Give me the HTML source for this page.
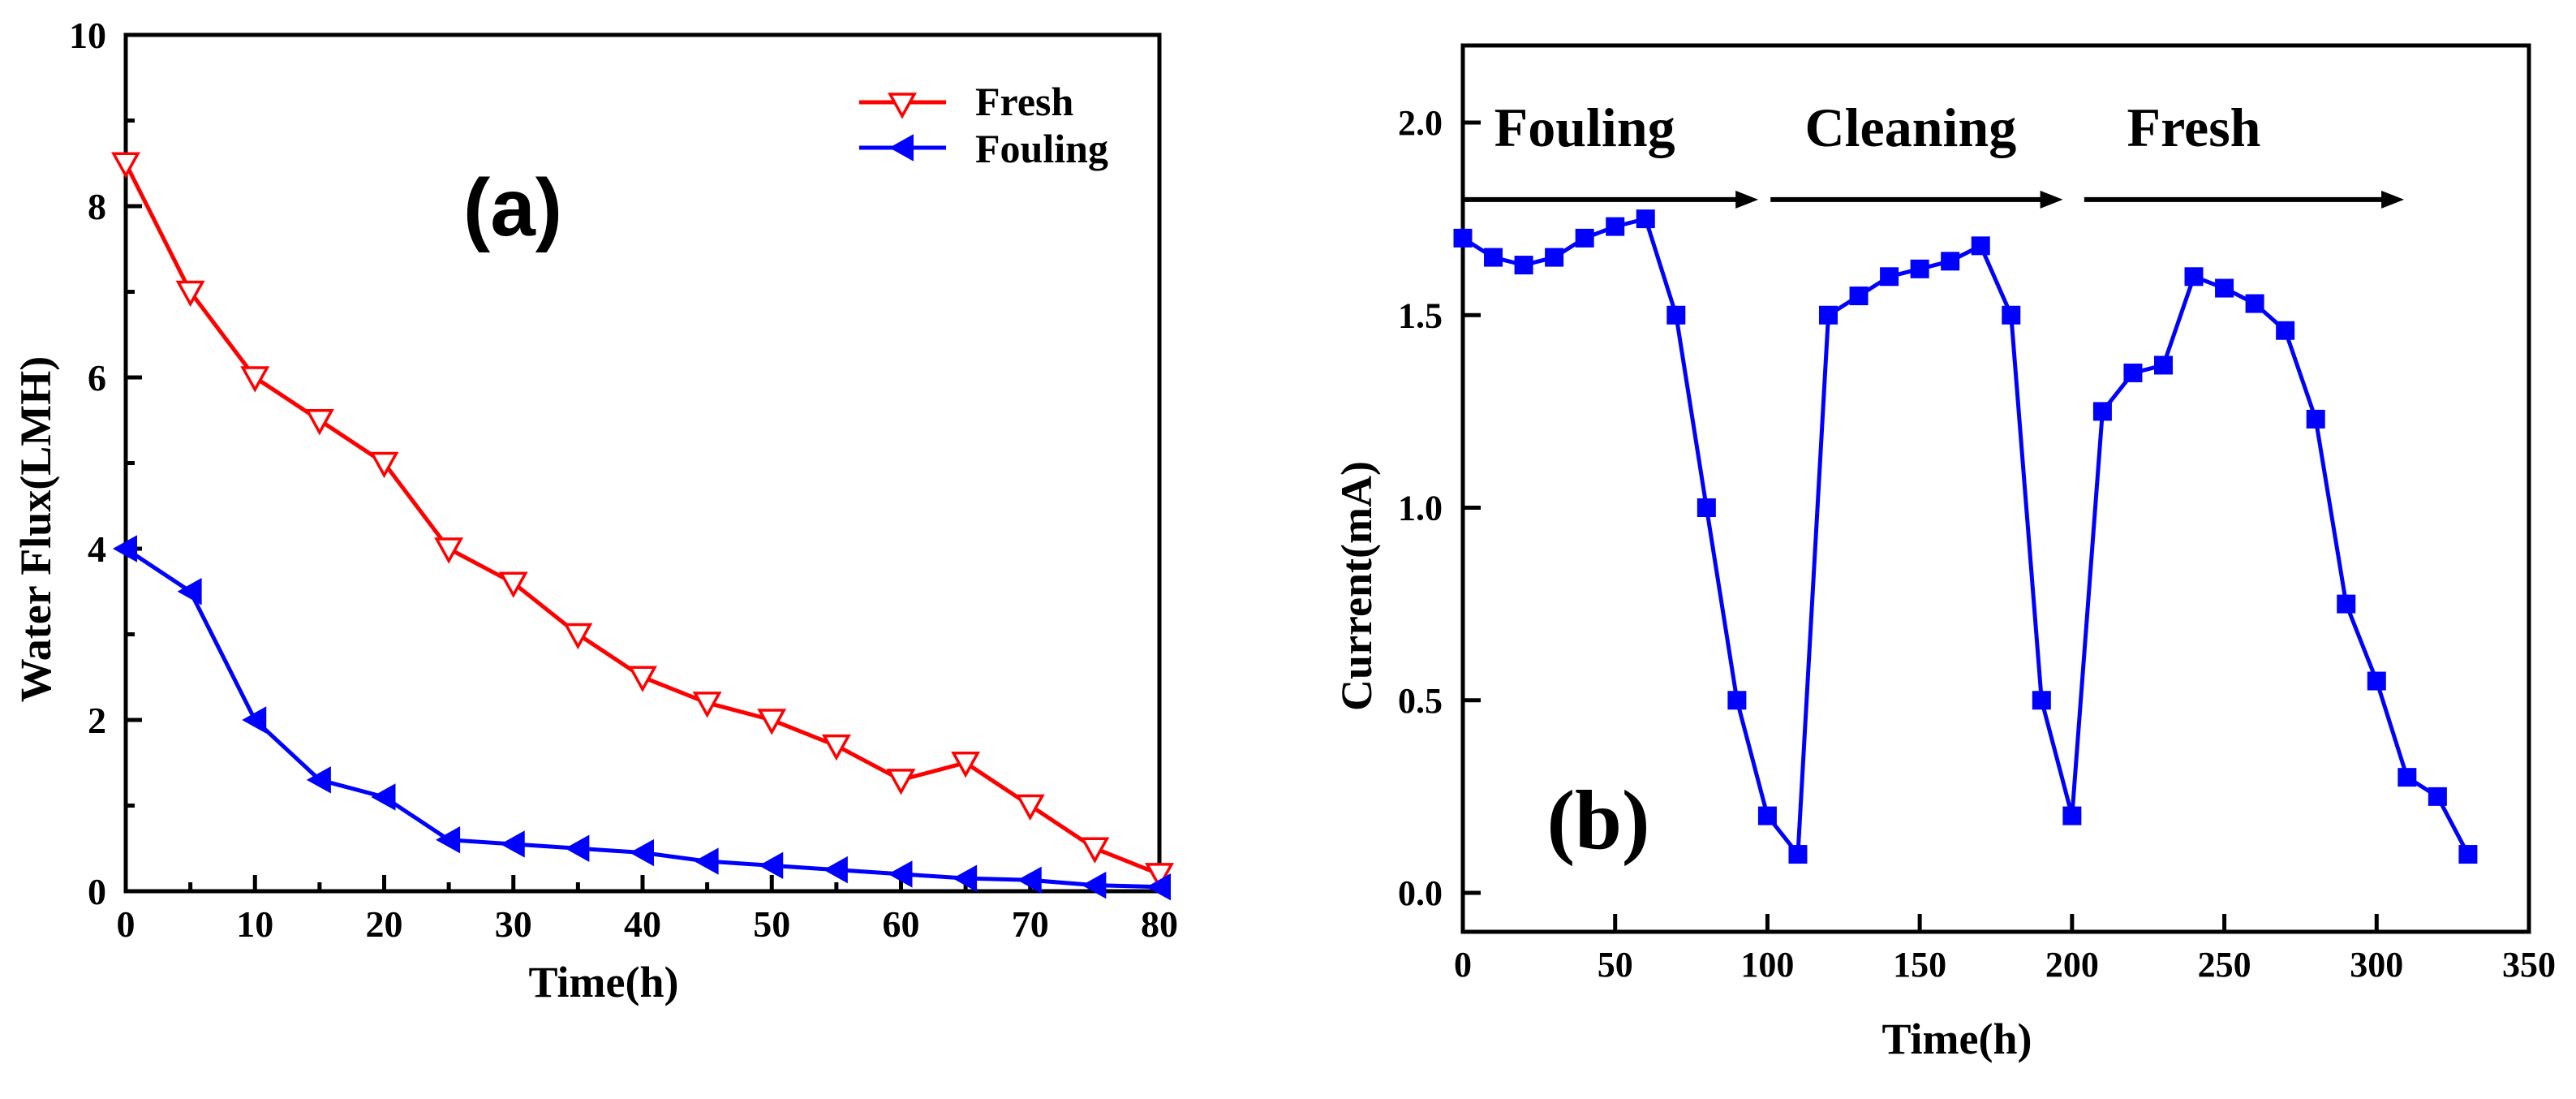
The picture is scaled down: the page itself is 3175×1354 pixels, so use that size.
<!DOCTYPE html>
<html><head><meta charset="utf-8">
<style>
html,body{margin:0;padding:0;background:#fff;}
svg{display:block;}
text{font-family:"Liberation Serif",serif;font-weight:bold;fill:#000;}
</style></head>
<body>
<svg id="fig" width="3175" height="1354" viewBox="0 0 3175 1354" xmlns="http://www.w3.org/2000/svg">
<g id="chartA"></g>
<g id="chartB"></g>
</svg>
<script>
// ---------- Chart (a) data ----------
const timeA = [0,5,10,15,20,25,30,35,40,45,50,55,60,65,70,75,80];
const freshFlux = [8.5,7.0,6.0,5.5,5.0,4.0,3.6,3.0,2.5,2.2,2.0,1.7,1.3,1.5,1.0,0.5,0.2];
const foulingFlux = [4.0,3.5,2.0,1.3,1.1,0.6,0.55,0.5,0.45,0.35,0.3,0.25,0.2,0.15,0.13,0.07,0.05];
const xTicksA = [0,10,20,30,40,50,60,70,80];
const yTicksA = [0,2,4,6,8,10];
// ---------- Chart (b) data ----------
const timeB = [0,10,20,30,40,50,60,70,80,90,100,110,120,130,140,150,160,170,180,190,200,210,220,230,240,250,260,270,280,290,300,310,320,330];
const currentB = [1.70,1.65,1.63,1.65,1.70,1.73,1.75,1.50,1.00,0.50,0.20,0.10,1.50,1.55,1.60,1.62,1.64,1.68,1.50,0.50,0.20,1.25,1.35,1.37,1.60,1.57,1.53,1.46,1.23,0.75,0.55,0.30,0.25,0.10];
const xTicksB = [0,50,100,150,200,250,300,350];
const yTicksB = [0.0,0.5,1.0,1.5,2.0];
const phaseLabels = ["Fouling","Cleaning","Fresh"];
const phaseStart = [0,101,204];
const phaseEnd = [97,197,309];
const phaseLabelX = [40,147,240];
const phaseLevel = 1.80;

const NS = "http://www.w3.org/2000/svg";
function mk(parent, tag, attrs, txt){
  const e = document.createElementNS(NS, tag);
  for (const k in attrs) e.setAttribute(k, attrs[k]);
  if (txt !== undefined) e.textContent = txt;
  parent.appendChild(e);
  return e;
}

// ===== Chart A =====
(function(){
  const g = document.getElementById('chartA');
  const L=155, R=1429, T=43, B=1098;
  const xA = v => L + (v-0)/(80-0)*(R-L);
  const yA = v => B - (v-0)/(10-0)*(B-T);
  const frame = mk(g,'rect',{x:L,y:T,width:R-L,height:B-T,fill:'none',stroke:'#000','stroke-width':5});
  
  
  for (let v=0; v<=10; v++){
    const major = v%2===0;
    const t = mk(g,'line',{x1:L,x2:L+(major?20:11),y1:yA(v),y2:yA(v),stroke:'#000','stroke-width':5});
    
    
  }
  yTicksA.forEach(v=>{
    const t = mk(g,'text',{x:L-24,y:yA(v)+16,'font-size':46,'text-anchor':'end'},String(v));
    
    
  });
  for (let v=5; v<80; v+=5){
    const major = v%10===0;
    const t = mk(g,'line',{x1:xA(v),x2:xA(v),y1:B,y2:B-(major?20:11),stroke:'#000','stroke-width':5});
    
    
  }
  xTicksA.forEach(v=>{
    const t = mk(g,'text',{x:xA(v),y:1154,'font-size':46,'text-anchor':'middle'},String(v));
    
    
  });
  const xt = mk(g,'text',{x:744,y:1228,'font-size':54,'text-anchor':'middle'},'Time(h)');
  
  
  const yt = mk(g,'text',{x:0,y:0,'font-size':54,'text-anchor':'middle',transform:'translate(62,652) rotate(-90)'},'Water Flux(LMH)');
  
  
  const redPts = timeA.map((t,i)=>xA(t)+','+yA(freshFlux[i])).join(' ');
  const rl = mk(g,'polyline',{points:redPts,fill:'none',stroke:'#ff0000','stroke-width':5});
  
  
  const bluePts = timeA.map((t,i)=>xA(t)+','+yA(foulingFlux[i])).join(' ');
  const bl = mk(g,'polyline',{points:bluePts,fill:'none',stroke:'#0000ff','stroke-width':5});
  
  
  function downTri(cx,cy){ return `${cx-15},${cy-12} ${cx+15},${cy-12} ${cx},${cy+15}`; }
  function leftTri(cx,cy){ return `${cx+13},${cy-15} ${cx+13},${cy+15} ${cx-14},${cy}`; }
  timeA.forEach((t,i)=>{
    const m = mk(g,'polygon',{points:downTri(xA(t),yA(freshFlux[i])),fill:'#fff',stroke:'#ff0000','stroke-width':3.5});
    
    
  });
  timeA.forEach((t,i)=>{
    const m = mk(g,'polygon',{points:leftTri(xA(t),yA(foulingFlux[i])),fill:'#0000ff',stroke:'#0000ff','stroke-width':2});
    
    
  });
  const lg = mk(g,'g',{});
  
  
  const l1 = mk(lg,'line',{x1:1059,x2:1166,y1:126,y2:126,stroke:'#ff0000','stroke-width':5});
  
  
  const m1 = mk(lg,'polygon',{points:downTri(1112,128),fill:'#fff',stroke:'#ff0000','stroke-width':3.5});
  
  
  const t1 = mk(lg,'text',{x:1202,y:142,'font-size':50},'Fresh');
  
  
  const l2 = mk(lg,'line',{x1:1059,x2:1166,y1:182,y2:182,stroke:'#0000ff','stroke-width':5});
  
  
  const m2 = mk(lg,'polygon',{points:leftTri(1112,182),fill:'#0000ff',stroke:'#0000ff','stroke-width':2});
  
  
  const t2 = mk(lg,'text',{x:1202,y:200,'font-size':50},'Fouling');
  
  
  const pa = mk(g,'text',{x:632,y:290,'font-size':100,'text-anchor':'middle',style:'font-family:"Liberation Sans",sans-serif;font-weight:bold'},'(a)');
  
  
})();

// ===== Chart B =====
(function(){
  const g = document.getElementById('chartB');
  const L=1803, R=3117, T=56, B=1148;
  const y0=1100, yUnit=474.5;
  const xB = v => L + (v-0)/(350-0)*(R-L);
  const yB = v => y0 - v*yUnit;
  const frame = mk(g,'rect',{x:L,y:T,width:R-L,height:B-T,fill:'none',stroke:'#000','stroke-width':5});
  
  
  yTicksB.forEach(v=>{
    const t = mk(g,'line',{x1:L,x2:L+22,y1:yB(v),y2:yB(v),stroke:'#000','stroke-width':5});
    
    
    const l = mk(g,'text',{x:1778,y:yB(v)+15,'font-size':44,'text-anchor':'end'},v.toFixed(1));
    
    
  });
  xTicksB.forEach(v=>{
    if (v>0 && v<350){
      const t = mk(g,'line',{x1:xB(v),x2:xB(v),y1:B,y2:B-22,stroke:'#000','stroke-width':5});
      
      
    }
    const l = mk(g,'text',{x:xB(v),y:1203,'font-size':44,'text-anchor':'middle'},String(v));
    
    
  });
  const xt = mk(g,'text',{x:2412,y:1298,'font-size':54,'text-anchor':'middle'},'Time(h)');
  
  
  const yt = mk(g,'text',{x:0,y:0,'font-size':54,'text-anchor':'middle',transform:'translate(1690,722) rotate(-90)'},'Current(mA)');
  
  
  phaseLabels.forEach((lab,i)=>{
    const x1=xB(phaseStart[i]), x2=xB(phaseEnd[i]), y=yB(phaseLevel);
    const a = mk(g,'line',{x1:x1,x2:x2-20,y1:y,y2:y,stroke:'#000','stroke-width':6});
    
    
    const h = mk(g,'polygon',{points:`${x2},${y} ${x2-28},${y-11} ${x2-28},${y+11}`,fill:'#000'});
    
    
    const t = mk(g,'text',{x:xB(phaseLabelX[i]),y:180,'font-size':68,'text-anchor':'middle'},lab);
    
    
  });
  const pts = timeB.map((t,i)=>xB(t)+','+yB(currentB[i])).join(' ');
  const line = mk(g,'polyline',{points:pts,fill:'none',stroke:'#0000ff','stroke-width':5});
  
  
  timeB.forEach((t,i)=>{
    const s=23;
    const m = mk(g,'rect',{x:xB(t)-s/2,y:yB(currentB[i])-s/2,width:s,height:s,fill:'#0000ff'});
    
    
  });
  const pb = mk(g,'text',{x:1970,y:1045,'font-size':104,'text-anchor':'middle'},'(b)');
  
  
})();
</script>
</body></html>
